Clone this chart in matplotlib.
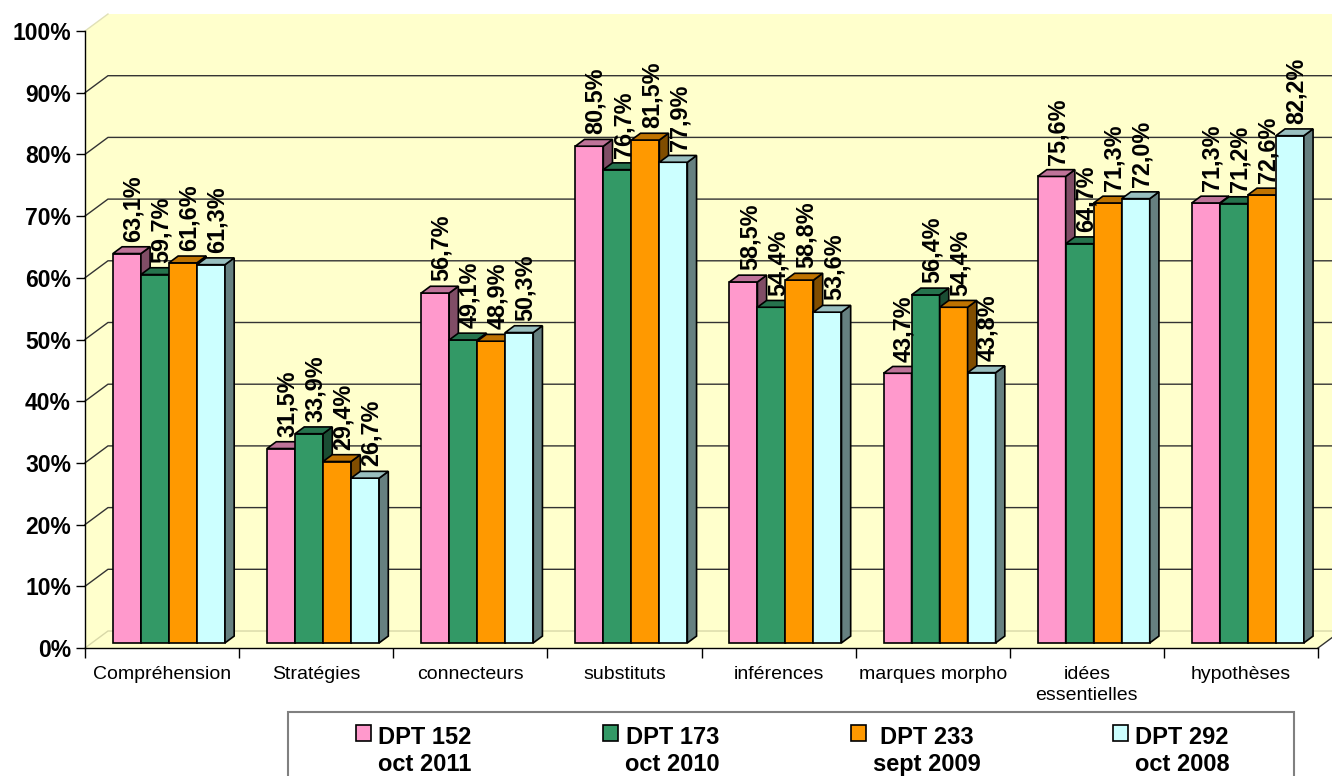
import matplotlib.pyplot as plt
import numpy as np
from matplotlib.patches import Polygon, Rectangle
from matplotlib.legend_handler import HandlerPatch
from matplotlib.colors import to_rgb

plt.rcParams['font.family'] = ['Liberation Sans', 'DejaVu Sans']

# data
categories = ["Compréhension", "Stratégies", "connecteurs", "substituts",
              "inférences", "marques morpho", "idées\nessentielles", "hypothèses"]
series = ["DPT 152\noct 2011", "DPT 173\noct 2010", "DPT 233\nsept 2009", "DPT 292\noct 2008"]
dpt152 = [63.1, 31.5, 56.7, 80.5, 58.5, 43.7, 75.6, 71.3]
dpt173 = [59.7, 33.9, 49.1, 76.7, 54.4, 56.4, 64.7, 71.2]
dpt233 = [61.6, 29.4, 48.9, 81.5, 58.8, 54.4, 71.3, 72.6]
dpt292 = [61.3, 26.7, 50.3, 77.9, 53.6, 43.8, 72.0, 82.2]
values = [dpt152, dpt173, dpt233, dpt292]
colors = ["#FF99CC", "#339966", "#FF9900", "#CCFFFF"]


def shade(c, f):
    return tuple(np.array(to_rgb(c)) * f)


n = len(categories)
bar_w = 1 / 5.5          # excel gap width 150%
DX, DY = 0.149, 2.755    # full floor depth in data units
f_front, f_back = 0.3, 0.7

fig = plt.figure(figsize=(13.32, 7.76), dpi=100)
ax = fig.add_axes([85 / 1332, 128 / 776, 1233 / 1332, 617 / 776])
ax.set_xlim(0, n)
ax.set_ylim(0, 100)
ax.patch.set_visible(False)

# walls + floor
wall = Polygon([(0, 0), (0, 100), (DX, 100 + DY), (n + DX, 100 + DY), (n + DX, DY), (n, 0)],
               closed=True, facecolor="#FFFFCC", edgecolor="none", zorder=0, clip_on=False)
ax.add_patch(wall)

# gridlines (left wall diagonal + back wall)
for v in range(10, 100, 10):
    ax.plot([0, DX, n + DX], [v, v + DY, v + DY], color="#333333", lw=1.0, zorder=1, clip_on=False)
ax.plot([0, DX, n + DX], [0, DY, DY], color="#D8D8A8", lw=1.0, zorder=1, clip_on=False)
ax.plot([0, DX], [100, 100 + DY], color="#E0E0B8", lw=1.0, zorder=1, clip_on=False)
ax.plot([n, n + DX], [0, DY], color="#333333", lw=1.0, zorder=1, clip_on=False)

# bars
ddx = (f_back - f_front) * DX
ddy = (f_back - f_front) * DY
z = 3
for i in range(n):
    for j, vals in enumerate(values):
        v = vals[i]
        x0 = i + 0.75 * bar_w + j * bar_w + f_front * DX
        y0 = f_front * DY
        ax.bar(x0, v, width=bar_w, bottom=y0, align='edge', color=colors[j],
               edgecolor='black', lw=1.2, zorder=z, clip_on=False)
        side = Polygon([(x0 + bar_w, y0), (x0 + bar_w, y0 + v), (x0 + bar_w + ddx, y0 + v + ddy),
                        (x0 + bar_w + ddx, y0 + ddy)], closed=True,
                       facecolor=shade(colors[j], 0.5), edgecolor='black', lw=1.2, zorder=z, clip_on=False)
        top = Polygon([(x0, y0 + v), (x0 + bar_w, y0 + v), (x0 + bar_w + ddx, y0 + v + ddy),
                       (x0 + ddx, y0 + v + ddy)], closed=True,
                      facecolor=shade(colors[j], 0.75), edgecolor='black', lw=1.2, zorder=z, clip_on=False)
        ax.add_patch(side)
        ax.add_patch(top)
        z += 0.01
        ax.text(x0 + bar_w / 2 + ddx / 2 + 0.012, y0 + v + ddy + 0.8,
                f"{v:.1f}%".replace('.', ','), rotation=90, ha='center', va='bottom',
                fontsize=16.8, fontweight='bold', zorder=20, clip_on=False)

# axes
for s in ['top', 'right']:
    ax.spines[s].set_visible(False)
for s in ['left', 'bottom']:
    ax.spines[s].set_linewidth(1.0)
    ax.spines[s].set_zorder(10)

yt = list(range(0, 101, 10))
ax.set_yticks(yt, [f"{v}%" for v in yt])
ax.tick_params(axis='y', length=6.5, width=1, pad=3.6, direction='out', labelsize=16.5)
for lab in ax.get_yticklabels():
    lab.set_fontweight('bold')

ax.set_xticks(range(n + 1), [''] * (n + 1))
ax.set_xticks(np.arange(n) + 0.5, categories, minor=True)
ax.tick_params(axis='x', which='major', length=7, width=1, direction='out')
ax.tick_params(axis='x', which='minor', length=0, pad=13, labelsize=14)
for lab in ax.get_xticklabels(minor=True):
    lab.set_linespacing(1.3)


# legend
class TopLinePatch(HandlerPatch):
    def create_artists(self, legend, orig_handle, xdescent, ydescent, width, height, fontsize, trans):
        p = Rectangle((-xdescent, -ydescent + 0.8 * fontsize), width, height,
                      facecolor=orig_handle.get_facecolor(), edgecolor='black', lw=1.2, transform=trans)
        return [p]


handles = [Rectangle((0, 0), 1, 1, facecolor=c) for c in colors]
frame = Rectangle((288 / 1332, -14 / 776), (1294 - 288) / 1332, 78 / 776, transform=fig.transFigure,
                  facecolor='white', edgecolor='#808080', lw=1.5, zorder=0)
fig.patches.append(frame)
leg = fig.legend(handles, series, loc='upper left',
                 bbox_to_anchor=(334.6 / 1332, (776 - 705) / 776, (1250.6 - 334.6) / 1332, 0),
                 mode='expand', ncol=4, frameon=False, prop={'weight': 'bold', 'size': 17},
                 handlelength=0.64, handleheight=0.7, handletextpad=0.3,
                 handler_map={Rectangle: TopLinePatch()})
for t in leg.get_texts():
    t.set_multialignment('center')
    t.set_linespacing(1.2)

fig.savefig('out.png', dpi=100)
